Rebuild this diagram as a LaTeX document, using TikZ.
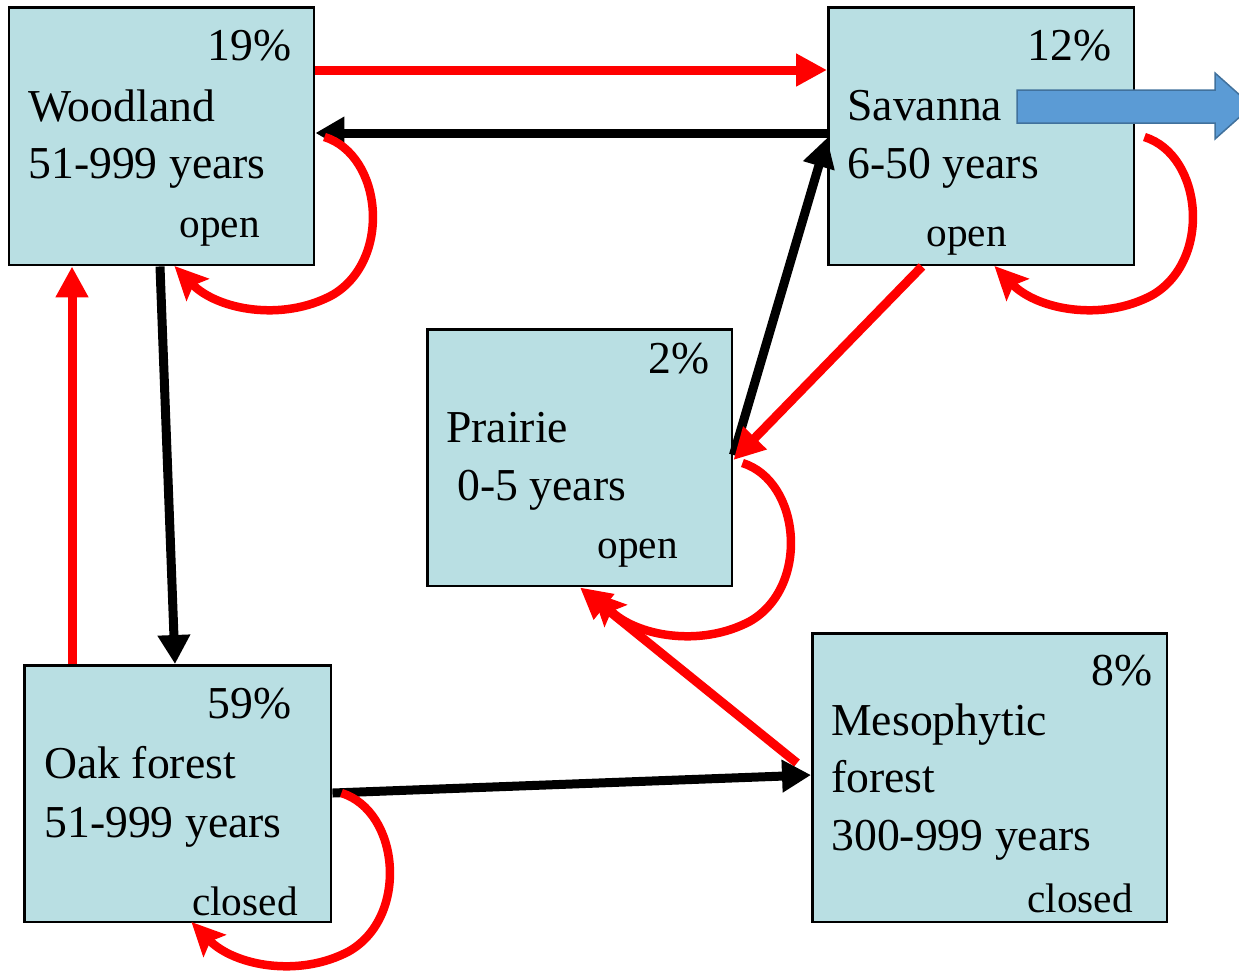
\documentclass[tikz,border=0pt]{standalone}
\usepackage{fontspec}
\setmainfont{Liberation Serif}
\usetikzlibrary{arrows.meta,calc}
\definecolor{boxfill}{HTML}{B9DFE3}
\definecolor{arrred}{HTML}{FF0000}
\definecolor{bluefill}{HTML}{5B9BD5}
\definecolor{blueedge}{HTML}{41719C}
\tikzset{
  box/.style={draw=black, line width=0.05cm, fill=boxfill, anchor=north west, inner sep=0pt},
  big/.style={font=\fontsize{26}{30}\selectfont, inner sep=0pt},
  small/.style={font=\fontsize{23.5}{28}\selectfont, inner sep=0pt},
  redarrow/.style={draw=arrred, line width=0.18cm, -{Triangle[length=0.62cm,width=0.62cm]}},
  blackarrow/.style={draw=black, line width=0.18cm, -{Triangle[length=0.58cm,width=0.62cm]}},
  selfarrow/.style={draw=arrred, line width=0.17cm, -{Stealth[length=0.66cm,width=0.62cm,inset=0.12cm]}},
}
\newcommand{\myloop}[3]{%
  \begin{scope}[shift={($(#1.north east)+(#2,#3)$)}]
    \draw[selfarrow] (9,131) .. controls (67,149) and (77,254) .. (17,289)
      .. controls (-33,316) and (-98,304) .. (-141,260);
  \end{scope}}
\begin{document}
\begin{tikzpicture}[x=0.02cm,y=-0.02cm]
\useasboundingbox (0,0) rectangle (1239,975);
\clip (0,0) rectangle (1239,975);
% boxes
\node[box, minimum width=6.1cm, minimum height=5.16cm] (W) at (8,6) {};
\node[box, minimum width=6.12cm, minimum height=5.16cm] (S) at (827,6) {};
\node[box, minimum width=6.1cm, minimum height=5.14cm] (P) at (426,328) {};
\node[box, minimum width=6.14cm, minimum height=5.14cm] (O) at (23,664) {};
\node[box, minimum width=7.1cm, minimum height=5.78cm] (M) at (811,632) {};
% texts
\node[big, anchor=base east] (Wpct) at (292,60) {19\%};
\node[big, anchor=base west] (Wname) at (28,121) {Woodland};
\node[big, anchor=base west] (Wage) at (28,178) {51-999 years};
\node[small, anchor=base east] (Wst) at (260,237) {open};
\node[big, anchor=base east] (Spct) at (1112,60) {12\%};
\node[big, anchor=base west] (Sname) at (847,120) {Savanna};
\node[big, anchor=base west] (Sage) at (847,178) {6-50 years};
\node[small, anchor=base east] (Sst) at (1007,246) {open};
\node[big, anchor=base east] (Ppct) at (710,373) {2\%};
\node[big, anchor=base west] (Pname) at (446,442) {Prairie};
\node[big, anchor=base west] (Page) at (457,500) {0-5 years};
\node[small, anchor=base east] (Pst) at (678,558) {open};
\node[big, anchor=base east] (Opct) at (292,718) {59\%};
\node[big, anchor=base west] (Oname) at (44,778) {Oak forest};
\node[big, anchor=base west] (Oage) at (44,837) {51-999 years};
\node[small, anchor=base east] (Ost) at (298,915) {closed};
\node[big, anchor=base east] (Mpct) at (1153,685) {8\%};
\node[big, anchor=base west] (Mname) at (831,735) {Mesophytic};
\node[big, anchor=base west] (Mname2) at (831,792) {forest};
\node[big, anchor=base west] (Mage) at (831,850) {300-999 years};
\node[small, anchor=base east] (Mst) at (1133,912) {closed};
% blue block arrow
\filldraw[fill=bluefill, draw=blueedge, line width=0.03cm]
  (1017,90) -- (1215,90) -- (1215,73) -- (1252,106) -- (1215,139) -- (1215,123) -- (1017,123) -- cycle;
% connectors
\draw[redarrow] (W.east |- 0,70) -- (S.west |- 0,70);
\draw[blackarrow] (S.west |- 0,133) -- (W.east |- 0,133);
\draw[blackarrow] (W.south -| 160,0) -- (O.north -| 175,0);
\draw[redarrow] (O.north -| 72,0) -- (W.south -| 72,0);
\draw[blackarrow] (P.east |- 0,455) -- (S.west |- 0,138);
\draw[redarrow] (S.south -| 922,0) -- (P.east |- 0,460);
\draw[redarrow] ($(M.west |- 0,763)+(-14,0)$) -- (P.south -| 580,0);
\draw[blackarrow] (O.east |- 0,793) -- (M.west |- 0,775);
% self loops
\myloop{W}{0}{0}
\myloop{S}{0}{0}
\myloop{P}{0}{4}
\myloop{O}{0}{-2}
\end{tikzpicture}
\end{document}
